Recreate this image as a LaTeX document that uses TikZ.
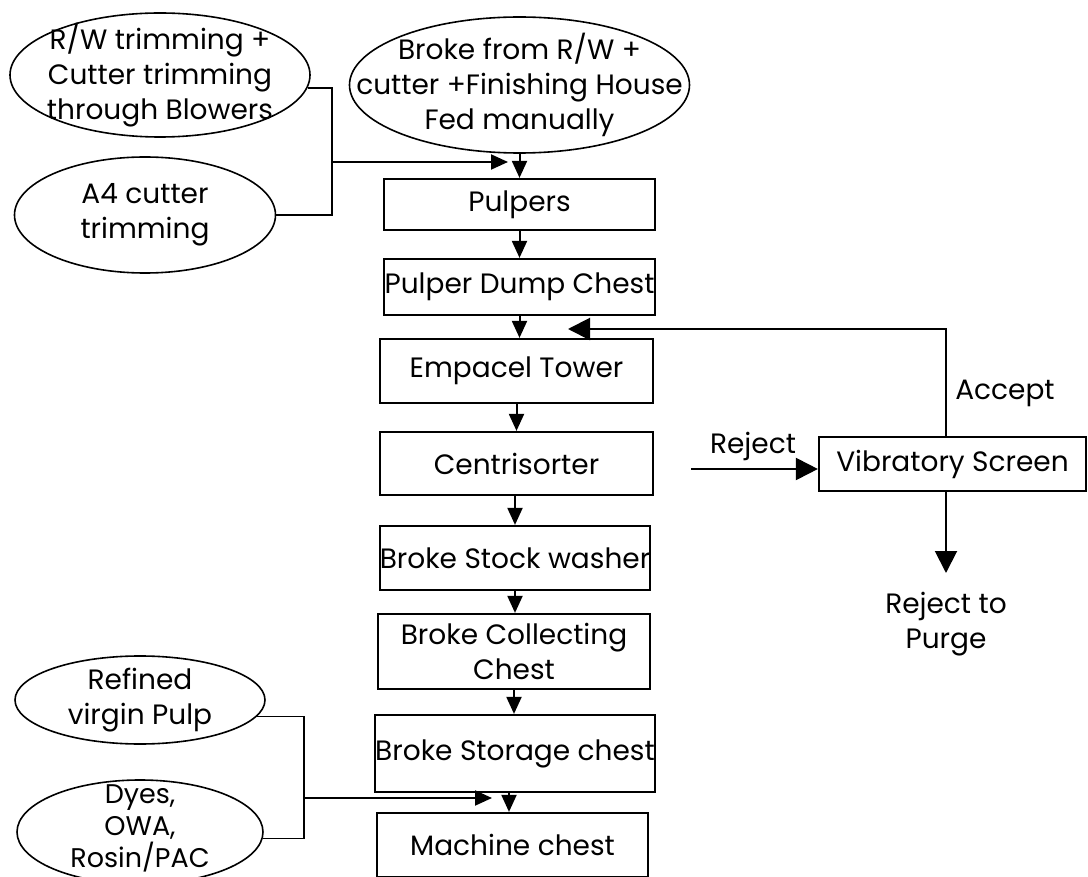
\documentclass[tikz,border=0pt]{standalone}
\usepackage{fontspec}
\setmainfont{Poppins}
\usetikzlibrary{arrows.meta,shapes.geometric}
\begin{document}
\begin{tikzpicture}[x=1pt,y=-1pt,
  txt/.style={font=\fontsize{28}{35}\selectfont, align=center, inner sep=0pt},
  box/.style={draw, line width=2.2pt, inner sep=0pt, txt, minimum width=271pt},
  oval/.style={draw, ellipse, line width=1.6pt, inner sep=0pt},
  lbl/.style={txt},
  link/.style={line width=1.6pt},
  arr/.style={line width=2pt, -{Triangle[length=17pt,width=15pt]}},
  bigarr/.style={line width=2pt, -{Triangle[length=22pt,width=22pt]}}
]
\clip (0,0) rectangle (1088,877);
\fill[white] (0,0) rectangle (1088,877);

% input ellipses
\node[oval, minimum width=300pt, minimum height=124pt,
  label={[lbl]center:R/W trimming +\\Cutter trimming\\through Blowers}] (e1) at (160,75) {};
\node[oval, minimum width=340pt, minimum height=136pt,
  label={[lbl]center:Broke from R/W +\\cutter +Finishing House\\Fed manually}] (e2) at (519.5,85) {};
\node[oval, minimum width=261pt, minimum height=116pt,
  label={[lbl]center:A4 cutter\\trimming}] (e3) at (145,215) {};
\node[oval, minimum width=250pt, minimum height=88pt,
  label={[lbl]center:Refined\\virgin Pulp}] (e4) at (140,700) {};
\node[oval, minimum width=246pt, minimum height=104pt,
  label={[lbl,font=\fontsize{27}{32}\selectfont,yshift=4pt]center:Dyes,\\OWA,\\Rosin/PAC}] (e5) at (140,832) {};

% process column
\node[box, minimum height=51pt] (pulpers) at (519.5,204.5) {Pulpers};
\node[box, minimum height=56pt] (dump) at (519.5,287) {Pulper Dump Chest};
\node[box, minimum width=273pt, minimum height=64pt] (empacel) at (516.5,371) {Empacel Tower};
\node[box, minimum width=273pt, minimum height=63pt] (centri) at (516.5,463.5) {Centrisorter};
\node[box, minimum width=270pt, minimum height=64pt] (bsw) at (515,558) {Broke Stock washer};
\node[box, minimum width=272pt, minimum height=75pt] (bcc) at (514,651.5) {Broke Collecting\\Chest};
\node[box, minimum width=270pt, minimum height=77pt] (bsc) at (515,753.5) {Broke Storage chest};
\node[box, minimum width=271pt, minimum height=64pt] (mc) at (512.5,845) {Machine chest};

% screen
\node[box, minimum width=267pt, minimum height=54pt] (vib) at (952.5,464) {Vibratory Screen};
\node[txt] (acc) at (1005,393) {Accept};
\node[txt] (rej) at (753,446) {Reject};
\node[txt] (purge) at (946,624) {Reject to\\Purge};

% coordinates
\coordinate (bx1) at (332,0);
\coordinate (in1) at (508,162);
\coordinate (bx2) at (304,0);
\coordinate (in2) at (492,798);
\coordinate (fb) at (568,329);
\coordinate (accx) at (946,0);
\coordinate (rj) at (691,469);
\coordinate (pg) at (946,573);

% top bracket and input arrow
\draw[link] (e1.-5) -- (e1.-5 -| bx1) -- (e3.east -| bx1) -- (e3.east);
\draw[arr] (in1 -| bx1) -- (in1);
\draw[arr] (e2.south) -- (pulpers.north);

% column arrows
\draw[arr] (pulpers.south) -- (dump.north);
\draw[arr] (dump.south) -- (dump.south |- empacel.north);
\draw[arr] (empacel.south) -- (empacel.south |- centri.north);
\draw[arr] (centri.south -| bsw.south) -- (bsw.north);
\draw[arr] (bsw.south) -- (bsw.south |- bcc.north);
\draw[arr] (bcc.south) -- (bcc.south |- bsc.north);
\draw[arr] ([xshift=-6pt]bsc.south) -- ([xshift=-6pt]bsc.south |- mc.north);

% bottom bracket
\draw[link] (e4.-8) -- (e4.-8 -| bx2) -- (e5.-3 -| bx2) -- (e5.-3);
\draw[arr] (in2 -| bx2) -- (in2);

% screen loop
\draw[bigarr] (rj) -- (rj -| vib.west);
\draw[bigarr] (vib.north -| accx) -- (fb -| accx) -- (fb);
\draw[bigarr] (vib.south -| accx) -- (pg);
\end{tikzpicture}
\end{document}
